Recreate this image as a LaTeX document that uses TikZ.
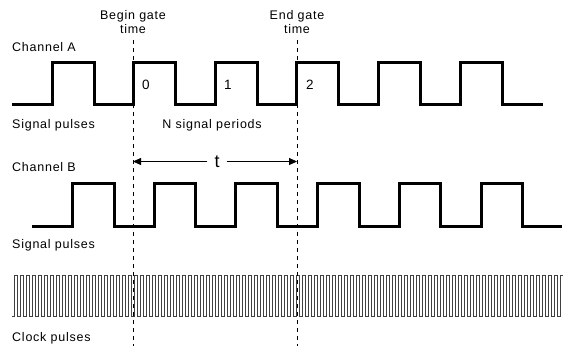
\documentclass[tikz,border=0pt]{standalone}
\usepackage{fontspec}
\setmainfont{Liberation Sans}[LetterSpace=6]
\usetikzlibrary{arrows.meta}

\tikzset{
  wave/.style={line width=3pt, line join=miter},
  clockwave/.style={line width=0.7pt, black!75},
  gateline/.style={dash pattern=on 4pt off 4pt, line width=0.6pt},
  lbl/.style={anchor=base west, inner sep=0pt},
  mid/.style={anchor=base, inner sep=0pt},
  digit/.style={mid, font=\fontsize{13.5}{15}\selectfont},
  span/.style={line width=0.8pt, -{Triangle[length=8pt,width=7pt]}},
}

\begin{document}
\begin{tikzpicture}[x=1pt,y=-1pt,font=\fontsize{12.5}{14}\selectfont]
\useasboundingbox (0,0) rectangle (563,346);

\node [mid] (begin) at (133,19) {Begin gate};
\node [mid] (begin_t) at (133,33) {time};
\node [mid] (end) at (297,19) {End gate};
\node [mid] (end_t) at (297,33) {time};

\node [lbl] (chA) at (12,51) {Channel A};
\node [lbl] (sigA) at (12,128) {Signal pulses};
\node [mid] (periods) at (212,128) {N signal periods};
\node [lbl] (chB) at (12,171) {Channel B};
\node [lbl] (sigB) at (12,248) {Signal pulses};
\node [lbl] (clk) at (12,341) {Clock pulses};

\node [digit] (n0) at (146,89) {0};
\node [digit] (n1) at (228,89) {1};
\node [digit] (n2) at (310,89) {2};

\draw[clockwave] (12,316) \foreach \k in {0,...,91} {
  -- ({14+6*\k},316) -- ++(0,-41) -- ++(3,0) -- ++(0,41)};

\draw[wave] (12,104) \foreach \k in {0,...,5} {
  -- ({52+81.6*\k},104) -- ++(0,-42) -- ++(42,0) -- ++(0,42)} -- (543,104);

\draw[wave] (32,226) \foreach \k in {0,...,5} {
  -- ({72.5+81.7*\k},226) -- ++(0,-43) -- ++(41.5,0) -- ++(0,43)} -- (562,226);

\coordinate (b_top) at (133,40);
\coordinate (b_bot) at (133,346);
\coordinate (e_top) at (297,40);
\coordinate (e_bot) at (297,346);
\draw[gateline] (b_top) -- (b_bot);
\draw[gateline] (e_top) -- (e_bot);

\node [font=\fontsize{18}{20}\selectfont, inner xsep=7pt, inner ysep=0pt] (t) at (217,161.5) {t};
\coordinate (t_b) at (133,161.5);
\coordinate (t_e) at (297,161.5);
\draw[span] (t.west) -- (t_b);
\draw[span] (t.east) -- (t_e);
\end{tikzpicture}
\end{document}
